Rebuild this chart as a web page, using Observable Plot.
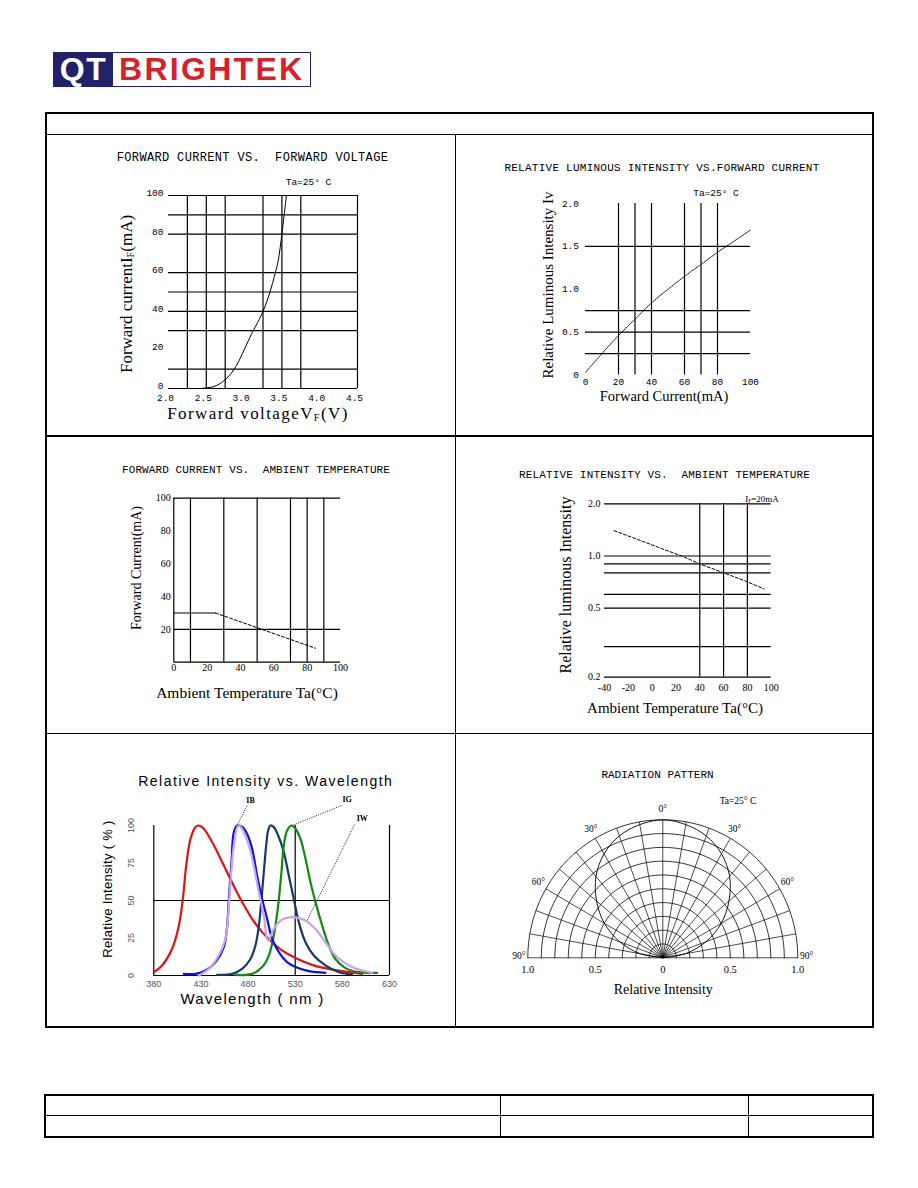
<!DOCTYPE html>
<html><head><meta charset="utf-8">
<script src="https://cdn.jsdelivr.net/npm/d3@7"></script>
<script src="https://cdn.jsdelivr.net/npm/@observablehq/plot@0.6"></script>
<style>
body{margin:0;background:#fff;}
#page{position:relative;width:918px;height:1188px;background:#fff;overflow:hidden;}
.ln{position:absolute;background:#000;}
.lbl{position:absolute;white-space:pre;transform:translate(-50%,-50%);line-height:1;color:#000;}
.rot{transform:translate(-50%,-50%) rotate(-90deg);}
.mono{font-family:"Liberation Mono",monospace;}
.serif{font-family:"Liberation Serif",serif;}
.sans{font-family:"Liberation Sans",Arial,sans-serif;}
sub{font-size:0.6em;vertical-align:-0.2em;line-height:0;}
</style></head><body><div id="page"></div>
<script>
// ---------- Chart 1: Forward current vs forward voltage ----------
const vfVoltage = [2.42, 2.5, 2.6, 2.7, 2.8, 2.9, 3.0, 3.1, 3.2, 3.25, 3.3, 3.35, 3.4, 3.45, 3.5, 3.53, 3.56];
const vfCurrent = [0, 0.3, 1, 3, 6.5, 12, 20, 28.4, 35.8, 40, 45, 51, 58, 66, 80, 90, 100];
const vfGridX = [2.25, 2.5, 2.75, 3.25, 3.5, 3.75, 4.5];
const vfGridY = [0, 10, 30, 40, 50, 60, 80, 90, 100];
const vfTicksX = [2.0, 2.5, 3.0, 3.5, 4.0, 4.5];
const vfTicksY = [0, 20, 40, 60, 80, 100];

// ---------- Chart 2: Relative luminous intensity vs forward current ----------
const ivCurrent = [0, 10, 20, 30, 40, 50, 60, 70, 80, 90, 100];
const ivRelative = [0.03, 0.25, 0.46, 0.65, 0.84, 1.0, 1.15, 1.29, 1.43, 1.56, 1.69];
const ivGridX = [20, 30, 40, 60, 70, 80];
const ivGridY = [0.25, 0.5, 0.75, 1.5];
const ivTicksX = [0, 20, 40, 60, 80, 100];
const ivTicksY = [0, 0.5, 1.0, 1.5, 2.0];

// ---------- Chart 3: Forward current vs ambient temperature ----------
const derTemp = [0, 25, 85];
const derCurrent = [30, 30, 8.5];
const derGridX = [0, 10, 30, 50, 70, 80, 90];
const derGridY = [0, 20, 100];
const derTicksX = [0, 20, 40, 60, 80, 100];
const derTicksY = [20, 40, 60, 80, 100];

// ---------- Chart 4: Relative intensity vs ambient temperature ----------
const taTemp = [-32, -10, 10, 25, 40, 60, 80, 94];
const taRelative = [1.40, 1.23, 1.09, 1.0, 0.90, 0.80, 0.71, 0.645];
const taGridX = [40, 60, 80];
const taGridY = [0.2, 0.3, 0.5, 0.6, 0.8, 0.9, 1.0, 2.0];
const taTicksX = [-40, -20, 0, 20, 40, 60, 80, 100];
const taTicksY = [0.2, 0.5, 1.0, 2.0];

// ---------- Chart 5: Relative intensity vs wavelength ----------
const wlRed = [[380,2.2],[388.8,6.7],[399.4,17.8],[406.5,33],[410.8,51],[414.3,73],[418.9,91],[424.2,99],[427.7,100],[433,97.8],[441.9,89],[452.5,75.6],[463,62],[473.7,49],[484.3,37.8],[494.9,28.9],[505.5,22.2],[516,16.7],[530.3,11.6],[548,7.1],[565.6,4.4],[586.9,2.2],[601,1.1]];
const wlNavy = [[447.2,0.4],[463.1,1.1],[473.7,4.4],[482.5,11],[487.8,20],[491.4,33],[494.2,51],[496.7,69],[499.2,86.7],[501.3,96.7],[503.8,100],[507.3,98.9],[511.9,93.3],[517.9,82.2],[523.2,66.7],[528.5,51],[533.8,35.6],[540.9,22.2],[549.7,13.3],[562.1,6.7],[576.2,2.2],[590.4,0.7]];
const wlGreen = [[466.6,0.4],[484.3,1.1],[494.9,5.6],[502,13.3],[507.3,26.7],[511.9,46.7],[515.4,69],[517.9,86.7],[521.4,96.7],[526,100],[530.3,97.8],[535.6,91],[540.9,77.8],[546.2,62.2],[551.5,48.9],[558.6,33.3],[565.6,20],[572.7,11],[583.3,4.9],[597.4,2.2],[616.9,1.8]];
const wlBlue = [[411.8,1.1],[424.2,1.1],[434.8,3.3],[445.4,8.9],[454.3,18.9],[457.8,33],[459.6,51],[462.4,75.6],[464.9,95.6],[468.4,100],[473.7,99],[479,94.4],[484.3,84.4],[489.6,66.7],[494.9,51],[500.2,37.8],[505.5,24.4],[512.6,15.6],[521.4,8.9],[530.3,5.6],[544.4,2.9],[562.1,1.8]];
const wlWhite = [[427.7,0],[438.3,4.4],[448.9,13.3],[456,24.4],[458.9,40],[461.3,62],[464.9,86.7],[469.5,100],[473.7,97.8],[480.8,86.7],[486.1,73],[491.4,55.6],[496.7,40],[500.2,24.4],[502,23.3],[505.5,28.9],[510.8,34.4],[517.9,37.8],[526.7,38.9],[533.8,38.2],[540.9,36.7],[551.5,31],[562.1,22.2],[572.7,13.3],[586.9,6.7],[601,3.3],[611.6,1.8]];
const wlColors = ["#dd1414", "#123a6a", "#128a12", "#1010dd", "#c8a2ea"];
const wlGridX = [380, 530, 630];
const wlGridY = [0, 50];
const wlTicksX = [380, 430, 480, 530, 580, 630];
const wlTicksY = [0, 25, 50, 75, 100];
const wlTags = ["IB", "IG", "IW"];
const wlTagNm = [482.6, 585.1, 601.1];
const wlTagPct = [116.7, 117.1, 104.5];
const wlLeaderFrom = [[479, 113.3], [579, 113.3], [593, 100.7]];
const wlLeaderTo = [[468.4, 100], [526.7, 100], [542.7, 36.7]];

// ---------- Chart 6: Radiation pattern ----------
const radAngle = [-90, -80, -70, -60, -50, -40, -30, -20, -10, 0, 10, 20, 30, 40, 50, 60, 70, 80, 90];
const radValue = [0, 0.17, 0.34, 0.5, 0.64, 0.77, 0.87, 0.94, 0.98, 1.0, 0.98, 0.94, 0.87, 0.77, 0.64, 0.5, 0.34, 0.17, 0];
const polarRadii = [0.1, 0.2, 0.3, 0.4, 0.5, 0.6, 0.7, 0.8, 0.9, 1.0];
const polarSpokes = [-90, -80, -70, -60, -50, -40, -30, -20, -10, 0, 10, 20, 30, 40, 50, 60, 70, 80, 90];
const polarTickPos = [-1, -0.5, 0, 0.5, 1];
const polarTickText = ["1.0", "0.5", "0", "0.5", "1.0"];
const angleLabelDeg = [-90, -60, -30, 0, 30, 60, 90];
const angleLabelText = ["90°", "60°", "30°", "0°", "30°", "60°", "90°"];

// ================= drawing =================
const page = document.getElementById("page");
const RAD = Math.PI / 180;

function addPlot(opts, left, top) {
  const svg = Plot.plot({...opts, style: {background: "transparent", overflow: "visible", color: "#000"}});
  svg.style.position = "absolute";
  svg.style.left = left + "px";
  svg.style.top = top + "px";
  page.appendChild(svg);
}
function addLabel(html, cx, cy, cls, css) {
  const d = document.createElement("div");
  d.className = "lbl " + cls;
  d.innerHTML = html;
  d.style.left = cx + "px";
  d.style.top = cy + "px";
  if (css) d.style.cssText += css;
  page.appendChild(d);
}
function addLine(x, y, w, h) {
  const d = document.createElement("div");
  d.className = "ln";
  d.style.cssText += `left:${x}px;top:${y}px;width:${w}px;height:${h}px;`;
  page.appendChild(d);
}
function addBox(x, y, w, h, bw, color) {
  const d = document.createElement("div");
  d.style.cssText = `position:absolute;left:${x}px;top:${y}px;width:${w}px;height:${h}px;border:${bw}px solid ${color};box-sizing:border-box;`;
  page.appendChild(d);
  return d;
}

// ---- logo ----
const logo = addBox(53, 52, 258, 35, 1.5, "#22226a");
logo.style.display = "flex";
logo.innerHTML = `<div style="background:#22226a;width:59px;height:100%;color:#fff;font:bold 32px 'Liberation Sans',Arial,sans-serif;letter-spacing:1.5px;display:flex;align-items:center;justify-content:center;">QT</div>
<div style="color:#d6212a;font:bold 32px 'Liberation Sans',Arial,sans-serif;letter-spacing:2.3px;display:flex;align-items:center;padding-left:6px;">BRIGHTEK</div>`;

// ---- page frames ----
addBox(45, 112, 829, 916, 2, "#000");
addLine(45, 134, 829, 1);
addLine(455, 134, 1, 894);
addLine(45, 435, 829, 1.5);
addLine(45, 733, 829, 1);
addBox(44, 1094, 830, 44, 2, "#000");
addLine(44, 1115, 830, 1);
addLine(500, 1094, 1, 44);
addLine(748, 1094, 1, 44);

const gridStyle = {stroke: "#000", strokeWidth: 1.2};
const monoTick = {fontFamily: "Liberation Mono", fontSize: 9.5, fill: "#000"};
const serifTick = {fontFamily: "Liberation Serif", fontSize: 10, fill: "#000"};

// ---- Chart 1 ----
addPlot({
  width: 300, height: 290, marginLeft: 68, marginRight: 43, marginTop: 55, marginBottom: 42,
  x: {domain: [2, 4.5], axis: null}, y: {domain: [0, 100], axis: null},
  marks: [
    Plot.ruleX(vfGridX, gridStyle),
    Plot.ruleY(vfGridY, gridStyle),
    Plot.line(vfVoltage.map((v, i) => ({v, c: vfCurrent[i]})), {x: "v", y: "c", curve: "catmull-rom", stroke: "#000", strokeWidth: 1}),
    Plot.text(vfTicksX, {x: d => d, text: d => d.toFixed(1), frameAnchor: "bottom", lineAnchor: "middle", dy: 9, dx: -3, ...monoTick}),
    Plot.text(vfTicksY, {y: d => d, text: d => String(d), frameAnchor: "left", textAnchor: "end", dx: -5, dy: -2.5, ...monoTick})
  ]
}, 100, 140);
addLabel("FORWARD CURRENT VS.  FORWARD VOLTAGE", 252.5, 157.5, "mono", "font-size:12px;letter-spacing:0.34px;");
addLabel("Ta=25° C", 308.5, 183, "mono", "font-size:9.5px;");
addLabel("Forward currentI<sub>F</sub>(mA)", 126, 294, "serif rot", "font-size:17px;");
addLabel("Forward voltageV<sub>F</sub>(V)", 258, 413, "serif", "font-size:17px;letter-spacing:1.4px;");

// ---- Chart 2 ----
addPlot({
  width: 340, height: 260, marginLeft: 85, marginRight: 90, marginTop: 53, marginBottom: 35.5,
  x: {domain: [0, 100], axis: null}, y: {domain: [0, 2], axis: null},
  marks: [
    Plot.ruleX(ivGridX, gridStyle),
    Plot.ruleY(ivGridY, gridStyle),
    Plot.line(ivCurrent.map((c, i) => ({c, r: ivRelative[i]})), {x: "c", y: "r", curve: "catmull-rom", stroke: "#000", strokeWidth: 0.9, strokeDasharray: "1.5,1"}),
    Plot.text(ivTicksX, {x: d => d, text: d => String(d), frameAnchor: "bottom", lineAnchor: "middle", dy: 6.5, ...monoTick}),
    Plot.text(ivTicksY, {y: d => d, text: d => d === 0 ? "0" : d.toFixed(1), frameAnchor: "left", textAnchor: "end", dx: -6.5, ...monoTick})
  ]
}, 500, 150);
addLabel("RELATIVE LUMINOUS INTENSITY VS.FORWARD CURRENT", 662, 167.5, "mono", "font-size:11px;letter-spacing:0.25px;");
addLabel("Ta=25° C", 716, 193.5, "mono", "font-size:9.5px;");
addLabel("Relative Luminous Intensity Iv", 547.5, 285, "serif rot", "font-size:15px;");
addLabel("Forward Current(mA)", 664, 396, "serif", "font-size:14.5px;");

// ---- Chart 3 ----
addPlot({
  width: 300, height: 260, marginLeft: 63.3, marginRight: 70, marginTop: 42.7, marginBottom: 53.3,
  x: {domain: [0, 100], axis: null}, y: {domain: [0, 100], axis: null},
  marks: [
    Plot.ruleX(derGridX, gridStyle),
    Plot.ruleY(derGridY, gridStyle),
    Plot.line(derTemp.slice(0, 2).map((t, i) => ({t, c: derCurrent[i]})), {x: "t", y: "c", ...gridStyle}),
    Plot.line(derTemp.slice(1).map((t, i) => ({t, c: derCurrent[i + 1]})), {x: "t", y: "c", stroke: "#000", strokeWidth: 1, strokeDasharray: "3,2"}),
    Plot.text(derTicksX, {x: d => d, text: d => String(d), frameAnchor: "bottom", lineAnchor: "middle", dy: 6, ...serifTick}),
    Plot.text(derTicksY, {y: d => d, text: d => String(d), frameAnchor: "left", textAnchor: "end", dx: -3, ...serifTick})
  ]
}, 110, 455);
addLabel("FORWARD CURRENT VS.  AMBIENT TEMPERATURE", 256, 470, "mono", "font-size:11px;letter-spacing:0.1px;");
addLabel("Forward Current(mA)", 137, 568, "serif rot", "font-size:14px;");
addLabel("Ambient Temperature Ta(°C)", 247, 693, "serif", "font-size:15.5px;");

// ---- Chart 4 ----
addPlot({
  width: 260, height: 260, marginLeft: 64, marginRight: 29.3, marginTop: 43.3, marginBottom: 43.3,
  x: {domain: [-40, 100], axis: null}, y: {type: "log", domain: [0.2, 2], axis: null},
  marks: [
    Plot.ruleX(taGridX, gridStyle),
    Plot.ruleY(taGridY, gridStyle),
    Plot.line(taTemp.map((t, i) => ({t, r: taRelative[i]})), {x: "t", y: "r", stroke: "#000", strokeWidth: 1, strokeDasharray: "3,2"}),
    Plot.text(taTicksX, {x: d => d, text: d => String(d), frameAnchor: "bottom", lineAnchor: "middle", dy: 10.5, ...serifTick}),
    Plot.text(taTicksY, {y: d => d, text: d => d.toFixed(1), frameAnchor: "left", textAnchor: "end", dx: -4, ...serifTick})
  ]
}, 540, 460);
addLabel("RELATIVE INTENSITY VS.  AMBIENT TEMPERATURE", 664.5, 475, "mono", "font-size:11px;letter-spacing:0.17px;");
addLabel("I<sub>F</sub>=20mA", 762, 498.5, "serif", "font-size:9px;");
addLabel("Relative luminous Intensity", 566, 585, "serif rot", "font-size:16px;");
addLabel("Ambient Temperature Ta(°C)", 675, 707.5, "serif", "font-size:15px;");

// ---- Chart 5 ----
const wlSeries = [wlRed, wlNavy, wlGreen, wlBlue, wlWhite];
addPlot({
  width: 330, height: 250, marginLeft: 58.3, marginRight: 36, marginTop: 60, marginBottom: 40,
  x: {domain: [380, 630], axis: null}, y: {domain: [0, 100], axis: null},
  marks: [
    Plot.ruleX(wlGridX, gridStyle),
    Plot.ruleY(wlGridY, gridStyle),
    ...wlSeries.map((s, k) => Plot.line(s, {x: d => d[0], y: d => d[1], curve: "catmull-rom", stroke: wlColors[k], strokeWidth: 2.2, strokeLinejoin: "round"})),
    Plot.link(wlTags.map((t, i) => i), {x1: i => wlLeaderFrom[i][0], y1: i => wlLeaderFrom[i][1], x2: i => wlLeaderTo[i][0], y2: i => wlLeaderTo[i][1], stroke: "#000", strokeWidth: 0.8, strokeDasharray: "1.2,1.2"}),
    Plot.text(wlTags.map((t, i) => i), {x: i => wlTagNm[i], y: i => wlTagPct[i], text: i => wlTags[i], fontFamily: "Liberation Serif", fontWeight: "bold", fontSize: 8, fill: "#000"}),
    Plot.text(wlTicksX, {x: d => d, text: d => String(d), frameAnchor: "bottom", lineAnchor: "middle", dy: 8.3, fontFamily: "Liberation Sans", fontSize: 9, letterSpacing: 1, fill: "#555"}),
    Plot.text(wlTicksY, {y: d => d, text: d => String(d), frameAnchor: "left", rotate: -90, textAnchor: "middle", lineAnchor: "middle", dx: -23, fontFamily: "Liberation Sans", fontSize: 9, letterSpacing: 1, fill: "#555"})
  ]
}, 95, 765);
addLabel("Relative Intensity vs. Wavelength", 265.8, 781, "sans", "font-size:14px;letter-spacing:1.5px;");
addLabel("Relative Intensity ( % )", 106.7, 889, "sans rot", "font-size:13px;letter-spacing:0.3px;");
addLabel("Wavelength ( nm )", 252.5, 998.3, "sans", "font-size:15px;letter-spacing:1.3px;");

// ---- Chart 6 ----
const arcPts = [];
polarRadii.forEach(r => { for (let a = -90; a <= 90; a += 2) arcPts.push({r, x: r * Math.sin(a * RAD), y: r * Math.cos(a * RAD)}); });
const radPts = radAngle.map((a, i) => ({x: radValue[i] * Math.sin(a * RAD), y: radValue[i] * Math.cos(a * RAD)}));
addPlot({
  width: 320, height: 200, marginLeft: 22.3, marginRight: 27.7, marginTop: 29.3, marginBottom: 32.7,
  x: {domain: [-1, 1], axis: null}, y: {domain: [0, 1], axis: null},
  marks: [
    Plot.line(arcPts, {x: "x", y: "y", z: "r", stroke: "#000", strokeWidth: 0.8}),
    Plot.link(polarSpokes, {x1: () => 0, y1: () => 0, x2: a => Math.sin(a * RAD), y2: a => Math.cos(a * RAD), stroke: "#000", strokeWidth: 0.7}),
    Plot.line(radPts, {x: "x", y: "y", curve: "catmull-rom", stroke: "#000", strokeWidth: 0.9}),
    Plot.text(angleLabelDeg.map((a, i) => i), {x: i => 1.065 * Math.sin(angleLabelDeg[i] * RAD), y: i => 1.065 * Math.cos(angleLabelDeg[i] * RAD), text: i => angleLabelText[i], dy: -2, fontFamily: "Liberation Serif", fontSize: 9.5, fill: "#000"}),
    Plot.text(polarTickPos.map((p, i) => i), {x: i => polarTickPos[i], text: i => polarTickText[i], frameAnchor: "bottom", lineAnchor: "middle", dy: 12, fontFamily: "Liberation Serif", fontSize: 10.5, fill: "#000"})
  ]
}, 505, 790);
addLabel("RADIATION PATTERN", 657.5, 775, "mono", "font-size:11px;");
addLabel("Ta=25° C", 738, 801.7, "serif", "font-size:9.5px;");
addLabel("Relative Intensity", 663.3, 990, "serif", "font-size:14px;");
</script></body></html>
